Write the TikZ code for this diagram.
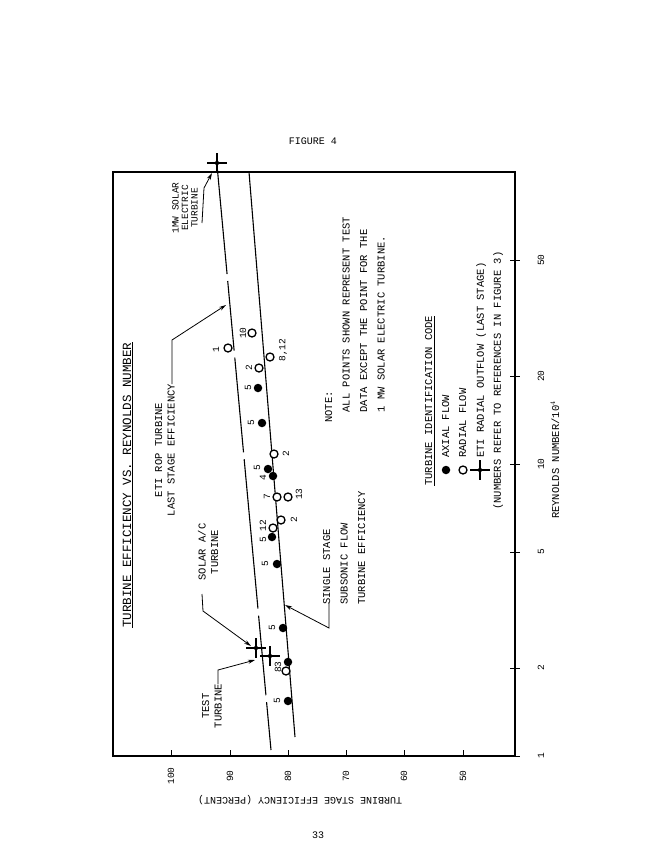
\documentclass[tikz,border=0pt]{standalone}
\usepackage{fontspec}
\setmonofont{Liberation Mono}
\usetikzlibrary{arrows.meta,shapes.geometric,calc}
\tikzset{
  lbl/.style={font=\ttfamily\fontsize{10.5}{12.5}\selectfont, rotate=90, inner sep=0pt, align=center},
  num/.style={font=\ttfamily\fontsize{9.5}{10}\selectfont, rotate=90, inner sep=0pt},
  axial/.style={circle, fill=black, inner sep=0pt, minimum size=8.5pt},
  radial/.style={circle, draw=black, line width=1.3pt, fill=white, inner sep=0pt, minimum size=8pt},
  eti/.style={diamond, fill=black, inner sep=0pt, minimum size=6pt},
  lead/.style={line width=0.8pt, -{Stealth[length=7pt,width=4pt]}},
  curve/.style={line width=1.1pt}
}
\newcommand{\etimark}[2]{\node[eti] (#1) at #2 {};
  \draw[line width=1.3pt] ($(#1)+(-10,0)$) -- ($(#1)+(10,0)$);
  \draw[line width=1.3pt] ($(#1)+(0,-10)$) -- ($(#1)+(0,10)$);}
\begin{document}
\begin{tikzpicture}[x=1pt,y=-1pt]
\useasboundingbox[fill=white] (0,0) rectangle (647,865);
% texts outside
\node[font=\ttfamily\fontsize{10}{12}\selectfont] (fig) at (313,141) {FIGURE 4};
\node[font=\ttfamily\fontsize{10}{12}\selectfont] (pg) at (318,835) {33};
\node[rotate=90, font=\ttfamily\fontsize{12.5}{14}\selectfont, inner sep=1pt] (title) at (128,485) {\underline{TURBINE EFFICIENCY VS. REYNOLDS NUMBER}};
\node[rotate=180, font=\ttfamily\fontsize{10}{12}\selectfont] (ylab) at (300,800) {TURBINE STAGE EFFICIENCY (PERCENT)};
\node[lbl] (xlab) at (555,460) {REYNOLDS NUMBER/10$^{4}$};
% frame
\draw[line width=1.3pt] (113,172) rectangle (515,756);
% efficiency ticks
\foreach \e/\x in {100/171,90/230,80/288,70/346,60/404,50/463}{
  \draw[line width=1pt] (\x,756) -- (\x,750);
  \node[num] at (\x,776) {\e};}
% Reynolds ticks
\foreach \r/\y in {1/756,2/668,5/552,10/464,20/376,50/260}{
  \draw[line width=1pt] (510,\y) -- (520,\y);
  \node[num] at (541,\y) {\r};}
% curves
\coordinate (u0) at (271,750); \coordinate (u1) at (217,165);
\coordinate (l0) at (295,737); \coordinate (l1) at (249,172);
\draw[curve, dash pattern=on 48pt off 7pt on 80pt off 7pt on 150pt off 7pt on 95pt off 7pt on 70pt off 7pt on 200pt] (u0) -- (u1);
\draw[curve] (l0) -- (l1);
% axial points
\foreach \n/\p in {a1/{(288,701)},a2/{(288,662)},a3/{(283,628)},a4/{(277,564)},a5/{(272,537)},a6/{(273,476)},a7/{(268,469)},a8/{(262,423)},a9/{(258,388)}}{
  \node[axial] (\n) at \p {};}
% radial points
\foreach \n/\p in {r1/{(286,671)},r2/{(273,528)},r3/{(281,520)},r4/{(277,497)},r5/{(288,497)},r6/{(274,454)},r7/{(259,368)},r8/{(270,357)},r9/{(252,333)},r10/{(228,348)}}{
  \node[radial] (\n) at \p {};}
% point labels
\node[num] at (277,701) {5};
\node[num] at (278,667) {83};
\node[num] at (272,628) {5};
\node[num] at (265,564) {5};
\node[num] at (263,531) {5 12};
\node[num] at (294,520) {2};
\node[num] at (267,497) {7};
\node[num] at (299,494) {13};
\node[num] at (263,478) {4};
\node[num] at (257,468) {5};
\node[num] at (251,423) {5};
\node[num] at (286,454) {2};
\node[num] at (248,388) {5};
\node[num] at (249,368) {2};
\node[num] at (283,350) {8,12};
\node[num] at (243,333) {10};
\node[num] at (216,350) {1};
% ETI points
\etimark{e1}{(217,163)}
\etimark{e2}{(256,648)}
\etimark{e3}{(270,656)}
% annotations
\node[lbl, font=\ttfamily\fontsize{9.5}{9.5}\selectfont] (t1) at (185,208) {1MW SOLAR\\ELECTRIC\\TURBINE};
\draw[lead] (202,223) -- (204,188) -- (212,173);
\node[lbl] (t2) at (165,450) {ETI ROP TURBINE\\LAST STAGE EFFICIENCY};
\draw[lead] (172,384) -- (172,340) -- (226,305);
\node[lbl] (t3) at (208,552) {SOLAR A/C\\TURBINE};
\draw[lead] (202,594) -- (203,611) -- (251,646);
\node[lbl] (t4) at (212,706) {TEST\\TURBINE};
\draw[lead] (218,684) -- (218,670) -- (255,660);
\node[lbl, align=left, anchor=north west] (t5) at (323,605) {SINGLE STAGE\\[5pt]SUBSONIC FLOW\\[5pt]TURBINE EFFICIENCY};
\draw[lead] (329,603) -- (329,628) -- (285,605);
\node[lbl, align=left, anchor=north west] (note) at (325,423) {NOTE:\\[5pt]\quad ALL POINTS SHOWN REPRESENT TEST\\[5pt]\quad DATA EXCEPT THE POINT FOR THE\\[5pt]\quad 1 MW SOLAR ELECTRIC TURBINE.};
% legend
\node[lbl, anchor=north west] (lg) at (425,486) {\underline{TURBINE IDENTIFICATION CODE}};
\node[axial] (la) at (446,470) {};
\node[lbl, anchor=north west] (lat) at (442,458) {AXIAL FLOW};
\node[radial] (lr) at (463,470) {};
\node[lbl, anchor=north west] (lrt) at (459,458) {RADIAL FLOW};
\etimark{le}{(480,470)}
\node[lbl, anchor=north west] (let) at (476,458) {ETI RADIAL OUTFLOW (LAST STAGE)};
\node[lbl, anchor=north west] (ln) at (493,510) {(NUMBERS REFER TO REFERENCES IN FIGURE 3)};
\end{tikzpicture}
\end{document}
